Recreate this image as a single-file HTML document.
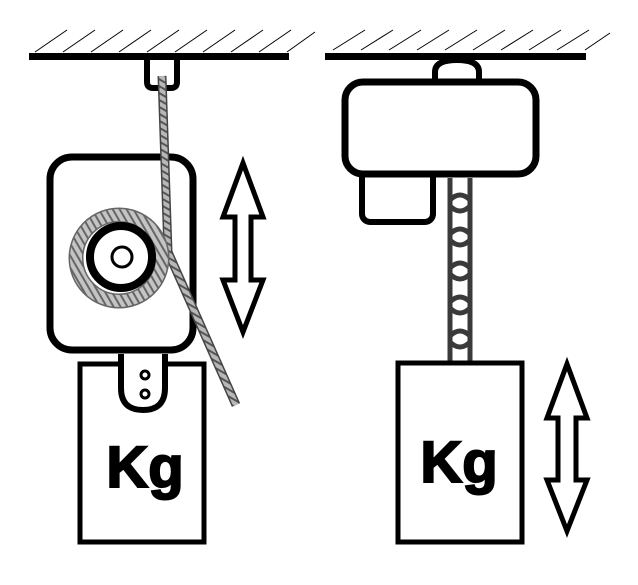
<!DOCTYPE html>
<html><head><style>html,body{margin:0;padding:0;background:#fff}svg{display:block}</style></head>
<body>
<svg width="638" height="585" viewBox="0 0 638 585" xmlns="http://www.w3.org/2000/svg">
<defs>
<pattern id="rope" width="6" height="6" patternUnits="userSpaceOnUse" patternTransform="rotate(30)">
<rect width="6" height="6" fill="#b8b8b8"/><rect width="6" height="2" fill="#555"/></pattern>
<pattern id="rope2" width="6" height="6" patternUnits="userSpaceOnUse" patternTransform="rotate(60)">
<rect width="6" height="6" fill="#c4c4c4"/><rect width="6" height="2" fill="#666"/></pattern>
</defs>
<g stroke="#000" stroke-width="1">
<line x1="35" y1="52" x2="67" y2="30"/><line x1="63" y1="52" x2="95" y2="30"/><line x1="91" y1="52" x2="123" y2="30"/><line x1="119" y1="52" x2="151" y2="30"/><line x1="147" y1="52" x2="179" y2="30"/><line x1="175" y1="52" x2="207" y2="30"/><line x1="203" y1="52" x2="235" y2="30"/><line x1="231" y1="52" x2="263" y2="30"/><line x1="259" y1="52" x2="291" y2="30"/><line x1="287" y1="52" x2="315" y2="32"/>
<line x1="333" y1="50" x2="365" y2="30"/><line x1="361" y1="50" x2="393" y2="30"/><line x1="389" y1="50" x2="421" y2="30"/><line x1="417" y1="50" x2="449" y2="30"/><line x1="445" y1="50" x2="477" y2="30"/><line x1="473" y1="50" x2="505" y2="30"/><line x1="501" y1="50" x2="533" y2="30"/><line x1="529" y1="50" x2="561" y2="30"/><line x1="557" y1="50" x2="589" y2="30"/><line x1="585" y1="50" x2="610" y2="33"/>
</g>
<rect x="29" y="53" width="260" height="7" fill="#000"/>
<rect x="325" y="53" width="261" height="7" fill="#000"/>
<!-- left -->
<path d="M147 60 V82 Q147 88 153 88 H171 Q177 88 177 82 V60" fill="none" stroke="#000" stroke-width="6"/>
<rect x="50" y="157" width="143" height="193" rx="22" fill="#fff" stroke="#000" stroke-width="7"/>
<rect x="80" y="364" width="124" height="178" fill="#fff" stroke="#000" stroke-width="5"/>
<path d="M121 354 V388 Q121 410 143 410 Q165 410 165 388 V354" fill="#fff" stroke="#000" stroke-width="6"/>
<circle cx="145" cy="375" r="4" fill="none" stroke="#000" stroke-width="3"/>
<circle cx="145" cy="394" r="4" fill="none" stroke="#000" stroke-width="3"/>
<path d="M162 76 L168 252 L236 405" fill="none" stroke="#444" stroke-width="9"/>
<path d="M162 76 L168 252 L236 405" fill="none" stroke="url(#rope)" stroke-width="6"/>
<circle cx="119" cy="258" r="43" fill="none" stroke="#666" stroke-width="15"/>
<circle cx="119" cy="258" r="43" fill="none" stroke="url(#rope2)" stroke-width="12"/>
<circle cx="121" cy="257" r="31" fill="#fff" stroke="#000" stroke-width="8"/>
<circle cx="122" cy="257" r="10" fill="#fff" stroke="#000" stroke-width="3"/>
<text x="145" y="487" font-family="Liberation Sans, sans-serif" font-weight="900" font-size="58" text-anchor="middle" stroke="#000" stroke-width="2">Kg</text>
<path d="M243 163 L263 217 H251 V280 H263 L243 332 L223 280 H235 V217 H223 Z" fill="#fff" stroke="#000" stroke-width="5" stroke-linejoin="miter"/>
<!-- right -->
<path d="M435 82 V72 Q435 60 457 60 Q479 60 479 72 V82" fill="#fff" stroke="#000" stroke-width="6"/>
<rect x="362" y="165" width="71" height="57" rx="8" fill="#fff" stroke="#000" stroke-width="6"/>
<rect x="345" y="82" width="191" height="92" rx="18" fill="#fff" stroke="#000" stroke-width="7"/>
<g fill="none" stroke="#3a3a3a" stroke-width="5">
<line x1="450" y1="178" x2="450" y2="362"/><line x1="470" y1="178" x2="470" y2="362"/>
<path d="M450 200 Q460 190 470 200 M450 206 Q460 216 470 206"/>
<path d="M450 234 Q460 224 470 234 M450 240 Q460 250 470 240"/>
<path d="M450 268 Q460 258 470 268 M450 274 Q460 284 470 274"/>
<path d="M450 302 Q460 292 470 302 M450 308 Q460 318 470 308"/>
<path d="M450 336 Q460 326 470 336 M450 342 Q460 352 470 342"/>
</g>
<rect x="398" y="363" width="124" height="179" fill="#fff" stroke="#000" stroke-width="5"/>
<text x="459" y="482" font-family="Liberation Sans, sans-serif" font-weight="900" font-size="58" text-anchor="middle" stroke="#000" stroke-width="2">Kg</text>
<path d="M567 364 L587 418 H576 V480 H587 L567 531 L547 480 H558 V418 H547 Z" fill="#fff" stroke="#000" stroke-width="5"/>
</svg>
</body></html>
